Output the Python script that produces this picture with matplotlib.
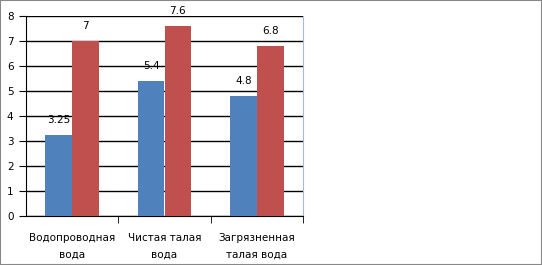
import numpy as np
import matplotlib.pyplot as plt
from matplotlib.patches import Rectangle

categories = ["Водопроводная\nвода", "Чистая талая\nвода", "Загрязненная\nталая вода"]
series1 = [3.25, 5.4, 4.8]
series2 = [7, 7.6, 6.8]
labels1 = ["3.25", "5.4", "4.8"]
labels2 = ["7", "7.6", "6.8"]

fig = plt.figure(figsize=(5.42, 2.65), dpi=100)
ax = fig.add_axes([26/542, 1-216/265, 277/542, 200/265])

x = np.arange(len(categories))
w = 0.29
b1 = ax.bar(x - w/2, series1, w, color='#4F81BD', linewidth=0, zorder=3)
b2 = ax.bar(x + w/2, series2, w, color='#C0504D', linewidth=0, zorder=3)

for rect, lab in zip(b1, labels1):
	ax.text(rect.get_x() + rect.get_width()/2, rect.get_height() + 0.4, lab,
		ha='center', va='bottom', fontsize=7.5)
for rect, lab in zip(b2, labels2):
	ax.text(rect.get_x() + rect.get_width()/2, rect.get_height() + 0.4, lab,
		ha='center', va='bottom', fontsize=7.5)

ax.set_xlim(-0.5, 2.5)
ax.set_ylim(0, 8)
ax.set_yticks(range(0, 9))
ax.yaxis.grid(True, color='black', linewidth=1, zorder=0)
ax.set_axisbelow(True)

ax.set_xticks(x)
ax.set_xticklabels(categories, fontsize=7.5, linespacing=1.9)
ax.tick_params(axis='x', length=0, pad=12)
ax.set_xticks([0.5, 1.5, 2.5], minor=True)
ax.tick_params(axis='x', which='minor', length=5, direction='out', color='black')
ax.tick_params(axis='y', labelsize=7.5, length=5, direction='out', pad=4)

ax.spines['top'].set_visible(False)
ax.spines['right'].set_color('#A8B8E0')
ax.spines['left'].set_color('black')
ax.spines['bottom'].set_color('black')

fig.patches.append(Rectangle((0, 0), 1, 1, transform=fig.transFigure, fill=False,
	edgecolor='#888888', linewidth=1.5))

plt.savefig("out.png", dpi=100)
